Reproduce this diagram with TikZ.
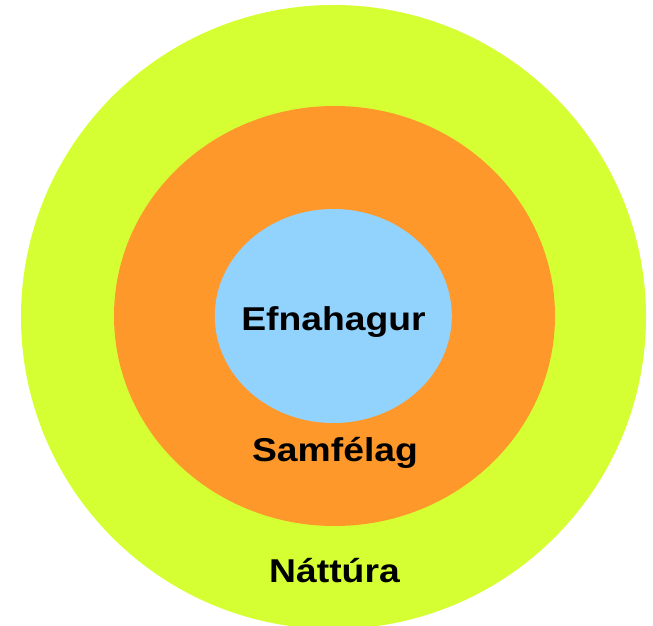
\documentclass[tikz,border=0pt]{standalone}
\usepackage{fontspec}
\usetikzlibrary{shapes.geometric, positioning}
\newfontfamily\ringfont[FakeStretch=1.13]{Liberation Sans}
\definecolor{naturecol}{RGB}{213,255,51}
\definecolor{societycol}{RGB}{255,152,43}
\definecolor{economycol}{RGB}{145,211,253}
\tikzset{
  ring/.style={ellipse, draw=none, inner sep=0, outer sep=0},
  ring label/.style={anchor=base, inner sep=0, font=\ringfont\bfseries\fontsize{33}{38}\selectfont, text=black}
}

\begin{document}
\begin{tikzpicture}[x=1pt, y=-1pt]
  \useasboundingbox (0,0) rectangle (653,626);

  % rings, outside in
  \node[ring, fill=naturecol, minimum width=625, minimum height=624] (nature) at (333.5,317) {};
  \node[ring, fill=societycol, minimum width=441, minimum height=420] (society) at (334.5,316) {};
  \node[ring, fill=economycol, minimum width=237, minimum height=214] (economy) at (333.3,316) {};

  \node[ring label] (economy text) at (333.5,330) {Efnahagur};
  \node[ring label] (society text) at (335,461) {Samfélag};
  \node[ring label] (nature text) at (334.5,582) {Náttúra};
\end{tikzpicture}
\end{document}
